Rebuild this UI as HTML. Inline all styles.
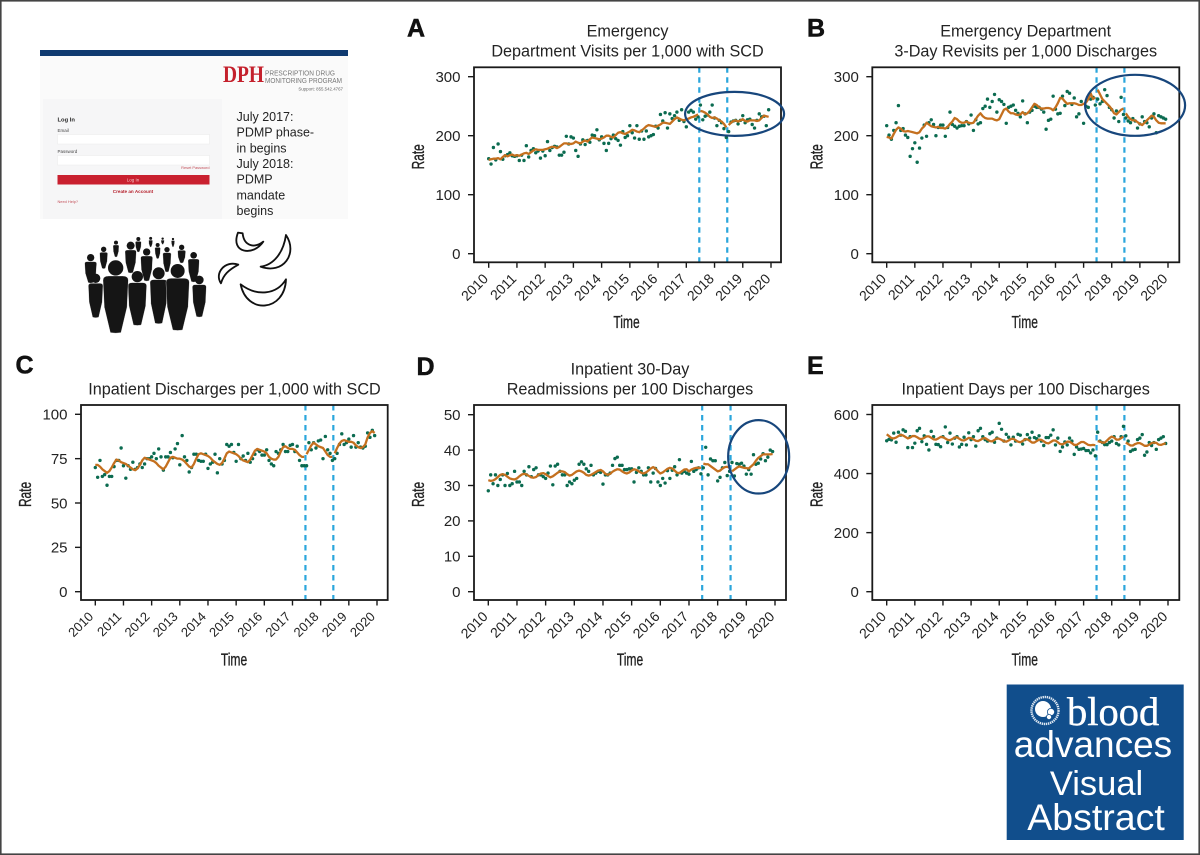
<!DOCTYPE html>
<html lang="en">
<head>
<meta charset="utf-8">
<title>Visual Abstract - PDMP and SCD acute care rates</title>
<style>
html,body{margin:0;padding:0;background:#fff;}
svg{display:block;}
text{font-family:"Liberation Sans",sans-serif;fill:#232323;}
</style>
</head>
<body>
<svg id="root" xmlns="http://www.w3.org/2000/svg" width="1200" height="855" viewBox="0 0 1200 855">
  <rect x="0" y="0" width="1200" height="855" fill="#fff"/>
  <rect x="0.8" y="0.8" width="1198.4" height="853.4" fill="none" stroke="#444" stroke-width="1.6"/>

  <g>
    <rect x="40" y="55" width="308" height="164" fill="#fafafa"/>
    <rect x="40" y="50" width="308" height="6" fill="#0f3a70"/>
    <rect x="43" y="99" width="179" height="120" fill="#f6f6f7"/>
    <text x="223" y="82" font-size="23" font-weight="bold" style="fill:#c4202c;font-family:'Liberation Serif',serif" textLength="41" lengthAdjust="spacingAndGlyphs">DPH</text>
    <text x="265" y="75.5" font-size="7.5" style="fill:#777" textLength="70" lengthAdjust="spacingAndGlyphs">PRESCRIPTION DRUG</text>
    <text x="265" y="83" font-size="7.5" style="fill:#777" textLength="77" lengthAdjust="spacingAndGlyphs">MONITORING PROGRAM</text>
    <text x="343" y="90.5" font-size="4.4" text-anchor="end" style="fill:#666">Support: 855.542.4767</text>
    <text x="57.5" y="121.5" font-size="5.8" font-weight="bold">Log In</text>
    <text x="57.5" y="132" font-size="4.5" style="fill:#444">Email</text>
    <rect x="57.5" y="134.5" width="152" height="9.5" fill="#fff" stroke="#eaeaea" stroke-width="0.5"/>
    <text x="57.5" y="153" font-size="4.5" style="fill:#444">Password</text>
    <rect x="57.5" y="155.5" width="152" height="9.5" fill="#fff" stroke="#eaeaea" stroke-width="0.5"/>
    <text x="209.5" y="169" font-size="3.9" text-anchor="end" style="fill:#c4505a">Reset Password</text>
    <rect x="57.5" y="175" width="152" height="9.5" fill="#c9202f"/>
    <text x="133" y="181.5" font-size="4.5" text-anchor="middle" style="fill:#f6c8cc">Log In</text>
    <text x="133" y="193" font-size="4.6" font-weight="bold" text-anchor="middle" style="fill:#b5202c">Create an Account</text>
    <text x="57.5" y="203" font-size="3.9" style="fill:#c4505a">Need Help?</text>
    <g font-size="12.5">
      <text x="236.5" y="121">July 2017:</text>
      <text x="236.5" y="136.7">PDMP phase-</text>
      <text x="236.5" y="152.4">in begins</text>
      <text x="236.5" y="168">July 2018:</text>
      <text x="236.5" y="183.7">PDMP</text>
      <text x="236.5" y="199.4">mandate</text>
      <text x="236.5" y="215">begins</text>
    </g>
  </g>

  <g id="crowd" transform="translate(20 40) scale(0.3333)" fill="#151515"></g>

  <g transform="translate(20 40) scale(0.3333)" fill="#fff" stroke="#111" stroke-width="5.5" stroke-linejoin="round">
    <path d="M654,578 C630,640 700,650 730,605 C705,625 672,620 668,580 Z"/>
    <path d="M798,585 C835,640 790,705 722,680 C760,675 790,640 798,585 Z"/>
    <path d="M655,674 C615,660 582,700 603,730 C610,705 625,690 655,674 Z"/>
    <path d="M662,733 C680,825 795,815 798,718 C770,765 710,770 662,733 Z"/>
  </g>

  <g id="charts"></g>

  <g>
    <rect x="1006.7" y="684.5" width="177" height="155.5" fill="#114e8c"/>
    <circle cx="1045" cy="710.5" r="13.5" fill="none" stroke="#dfe8f2" stroke-width="2.4" stroke-dasharray="1.4 0.7"/>
    <circle cx="1043" cy="709" r="8" fill="#fff"/>
    <circle cx="1051" cy="712" r="3.6" fill="#fff" stroke="#114e8c" stroke-width="0.8"/>
    <circle cx="1049" cy="717" r="2.6" fill="#fff" stroke="#114e8c" stroke-width="0.8"/>
    <text x="1067" y="725" font-size="40.5" style="fill:#fff;stroke:#fff;stroke-width:.4;font-family:'Liberation Serif',serif">blood</text>
    <text x="1093" y="757" font-size="37" text-anchor="middle" style="fill:#fff">advances</text>
    <text x="1096.5" y="795" font-size="34.5" text-anchor="middle" style="fill:#fff">Visual</text>
    <text x="1096" y="830" font-size="37.5" text-anchor="middle" style="fill:#fff">Abstract</text>
  </g>
</svg>

<script>
// Shared axis data
const xTickLabels = [2010, 2011, 2012, 2013, 2014, 2015, 2016, 2017, 2018, 2019, 2020];
const interventionYears = [2017.46, 2018.45];
const segmentBreakMonths = [90, 102];

// Panel A
const yTicksA = [0, 100, 200, 300];
const observedA = [
161,152,180,159,186,173,160,166,168,171,166,165,
166,158,167,158,183,164,175,178,171,174,162,174,
166,190,175,180,182,181,167,167,172,199,186,198,
196,175,165,186,193,185,192,189,201,200,210,193,
198,187,175,187,195,201,195,192,184,207,197,200,
217,205,196,217,194,208,194,208,198,200,202,216,
213,236,225,239,213,237,229,234,240,226,244,224,
215,240,243,240,228,232,252,227,233,235,240,252,
230,217,226,222,212,197,207,223,225,226,220,226,
234,222,227,228,219,213,226,237,232,233,217,244];
const fittedA = [
159,160,161,161,162,160,164,167,165,167,168,166,
167,166,168,170,171,169,172,175,177,176,176,176,
177,178,180,181,181,179,181,184,187,187,186,186,
187,190,188,187,190,192,190,194,197,196,195,194,
195,197,200,200,198,197,201,205,206,204,203,205,
207,210,209,207,206,209,212,216,218,217,216,215,
217,219,222,222,221,220,224,228,231,229,227,226,
228,229,231,232,234,236,242,241,239,236,232,230,
231,229,226,224,220,214,218,222,225,226,224,226,
228,225,224,226,226,226,225,226,230,234,233,232];

// Panel B
const yTicksB = [0, 100, 200, 300];
const observedB = [
217,201,194,209,222,251,209,212,201,197,165,178,
188,155,179,196,218,199,222,227,219,200,214,218,
218,199,214,240,219,216,213,216,217,217,224,220,
235,209,227,220,222,246,250,262,248,258,270,240,
261,258,253,221,248,250,252,243,238,232,259,237,
222,240,243,250,248,248,245,240,211,226,228,267,
245,237,238,267,251,275,272,253,264,232,237,258,
221,250,248,262,265,252,262,254,258,278,268,248,
244,230,242,224,265,236,230,225,222,229,225,213,
220,232,224,222,215,230,237,205,234,232,230,228];
const fittedB = [
198,197,195,203,210,214,212,208,207,208,207,206,
205,204,206,212,216,222,219,216,215,214,215,213,
213,212,215,220,224,230,228,224,222,222,224,222,
221,222,228,234,238,233,230,229,229,229,227,226,
228,236,244,246,241,238,238,236,235,236,240,236,
238,242,248,254,252,248,246,246,247,247,246,243,
248,255,264,263,258,254,255,255,255,254,252,252,
254,256,262,272,262,265,278,270,262,258,254,250,
245,238,236,240,244,246,238,232,228,226,226,223,
220,218,222,226,230,234,232,226,222,221,221,221];

// Panel C
const yTicksC = [0, 25, 50, 75, 100];
const observedC = [
70,64.5,74,65,66,60,65,65,70.5,74,74,81,
71,64,71,69,73,69,70,72,70,72,75,75,
76,78,75,80.5,76,68.5,76,76,78.5,75.5,80.5,83.5,
71.5,88,76,74,67.5,70,77.5,77.5,74,73.5,73.5,77.5,
69.5,72,73,77.5,67,75,72,74,83,82,83,78.5,
73.5,83,75,76.5,74,78,73,75,77.5,80,79,77,
77,80,74,72,71,79,78,80,83,79,79,82.5,
83,79,82,74,71,71,71,84,80,84,81,85,
85.5,75,87.5,80,78,74,75,78,83,89,83,84,
86,81.5,88,81.5,84,81.5,81,82,89.5,87,91,88];
const fittedC = [
71.5,71.5,70.5,69,68,67,68,70,72.5,74.5,74,73,
72.5,72,71,70,69,68.5,69.5,71.5,74,75.5,75,74.5,
74,73.5,72.5,71,70,69,70.5,73,75.5,76,75.5,75,
75,74.5,73.5,72,70.5,70,72,75,77.5,78,77.5,77,
76.5,75.5,74,73,72,71.5,72.5,75,78,79,78.5,78,
77.5,76.5,75,74,73.5,73,74.5,77,79.5,80.5,80,79.5,
79,78,76,75,74.5,74.5,76,79,81.5,82,81,80.5,
80.5,80,78.5,77,76,76,77.5,80,82.5,84,83,82,
81.5,81,79,77,76,76,78,81,83.5,85,85.5,85,
84.5,84.5,84,82.5,81.5,81,81.5,83,87,89.5,90.5,89.5];

// Panel D
const yTicksD = [0, 10, 20, 30, 40, 50];
const observedD = [
28.5,33,30.5,33,30,31.7,33,30,33.4,30,30.5,34,
31,31,30,34,33,35.3,32.5,34.5,35,33,33,32.5,
32,33.5,35.5,30.2,35.5,36,34,33,33,30,31,30.5,
31.5,32,36,36.7,36,34.7,34,35.7,33,33.5,34,33.7,
30.4,33,33,33.5,35.7,37.6,38,35.7,35.7,34.5,34.5,34.7,
34.7,31,33.7,35,34,33,33,35,31,33.5,34.8,31,
30,32,30.7,34.2,32,34.3,35.3,33,37.3,33.5,34,33.5,
33.2,36.8,34,34.5,35,33.3,35,40.8,33,37.5,37,37,
31.3,32.3,35,36.5,32.8,34,36.5,32.7,36.2,36,36.3,35.5,
33.2,34.5,33.2,38.7,36,36.3,37.5,39,37,38,40,39.6];
const fittedD = [
31.5,31.3,31.4,31.8,32.4,33,33.2,33,32.5,32,31.8,31.7,
32,32.6,33.1,33.3,33.1,32.7,32.3,32.2,32.4,33,33.4,33.5,
33.2,32.7,32.3,32.6,33.1,33.6,34,34,33.8,33.2,32.8,33,
33.5,34,34.2,34,33.6,33,32.8,33,33.4,33.8,34.2,34.4,
34,33.3,33,33.3,33.9,34.3,34.6,34.5,34,33.6,33.4,33.7,
34.2,34.6,34.4,34,33.6,33.4,33.7,34.2,34.8,35.2,34.8,34,
33.4,33.7,34.2,34.7,35,34.8,34.2,33.6,33.5,34,34.5,34.6,
34,34.5,34.8,35,35,35,36.2,36,36,35.5,35,34.5,
34,34.2,34.8,35.2,35.3,35,34,34.5,35,35.4,35.2,35,
34.9,34.8,35.4,36,37,37.8,38.3,38.8,38.8,38.8,38.8,38.9];

// Panel E
const yTicksE = [0, 200, 400, 600];
const observedE = [
511,516,514,537,506,540,530,548,543,488,525,488,
503,545,553,508,528,499,480,543,525,499,498,491,
525,558,505,537,500,520,525,490,499,523,497,538,
515,525,493,545,553,525,515,510,535,540,506,520,
570,550,510,533,523,497,523,510,533,530,500,515,
532,520,540,522,518,528,510,495,522,522,530,548,
497,520,475,490,507,497,520,510,465,490,482,483,
485,478,478,470,480,460,540,510,505,498,498,505,
510,525,502,497,525,560,528,510,475,480,482,515,
520,532,462,473,505,495,505,482,515,520,525,502];
const fittedE = [
533,527,520,519,522,527,531,529,524,519,522,527,
527,523,518,517,521,526,526,521,516,515,519,524,
523,519,514,513,517,522,523,518,513,512,516,521,
520,516,511,510,514,519,520,515,510,509,514,519,
518,514,509,508,512,517,518,513,508,506,510,516,
516,511,505,505,510,515,514,509,504,502,507,512,
512,506,500,499,503,508,508,503,497,497,502,507,
507,502,497,496,497,496,510,508,505,505,512,520,
525,522,515,515,520,525,505,500,495,495,500,503,
503,499,494,494,498,503,505,504,498,497,500,503];

const NS = 'http://www.w3.org/2000/svg';
function make(tag, attrs, parent) {
  const el = document.createElementNS(NS, tag);
  for (const k in attrs) el.setAttribute(k, attrs[k]);
  parent.appendChild(el);
  return el;
}

const panels = [
  {key:'a', letter:'A', letterX:407, letterY:36.5, title:['Emergency','Department Visits per 1,000 with SCD'], titleX:627.5,
   left:474, right:781, top:67.3, bottom:262.3, x2010:488.7, x2020:771, yMax:300, yTopPx:76.7, yZeroPx:253.7, labelSize:14, labelDx:-2.5,
   ticks:yTicksA, observed:observedA, fitted:fittedA, ring:{year:2018.71, rate:237, rx:49.5, ry:22}},
  {key:'b', letter:'B', letterX:807, letterY:36.5, title:['Emergency Department','3-Day Revisits per 1,000 Discharges'], titleX:1025.7,
   left:872.3, right:1179.3, top:67.3, bottom:262.3, x2010:886.7, x2020:1168, yMax:300, yTopPx:76.7, yZeroPx:253.7, labelSize:14, labelDx:-2.5,
   ticks:yTicksB, observed:observedB, fitted:fittedB, ring:{year:2018.83, rate:251.5, rx:50, ry:30.5}},
  {key:'c', letter:'C', letterX:15.5, letterY:373.5, title:['Inpatient Discharges per 1,000 with SCD'], titleX:234.5,
   left:81, right:387.7, top:405, bottom:600, x2010:95.3, x2020:377, yMax:100, yTopPx:414.3, yZeroPx:591.7, labelSize:13, labelDx:-4,
   ticks:yTicksC, observed:observedC, fitted:fittedC, ring:null},
  {key:'d', letter:'D', letterX:416.5, letterY:375, title:['Inpatient 30-Day','Readmissions per 100 Discharges'], titleX:630,
   left:474, right:786, top:405, bottom:600, x2010:488.3, x2020:775, yMax:50, yTopPx:414.7, yZeroPx:591.7, labelSize:14, labelDx:-2.5,
   ticks:yTicksD, observed:observedD, fitted:fittedD, ring:{year:2019.43, rate:38.1, rx:30.5, ry:36.7}},
  {key:'e', letter:'E', letterX:807, letterY:374, title:['Inpatient Days per 100 Discharges'], titleX:1025.7,
   left:872.3, right:1179.3, top:405, bottom:600, x2010:886.7, x2020:1168, yMax:600, yTopPx:414.5, yZeroPx:591.7, labelSize:14, labelDx:-2.5,
   ticks:yTicksE, observed:observedE, fitted:fittedE, ring:null}
];

const chartsRoot = document.getElementById('charts');

panels.forEach(function (p) {
  const xScale = function (year) { return p.x2010 + (year - 2010) * (p.x2020 - p.x2010) / 10; };
  const yScale = function (rate) { return p.yZeroPx - rate * (p.yZeroPx - p.yTopPx) / p.yMax; };
  const monthToYear = function (i) { return 2010 + i / 12; };

  const g = make('g', {}, chartsRoot);
  
  

  const letter = make('text', {x:p.letterX, y:p.letterY, 'font-size':25, 'font-weight':'bold', style:'fill:#111;stroke:#111;stroke-width:.5'}, g);
  letter.textContent = p.letter;
  
  

  const lastBaseline = p.top - 10.7;
  p.title.forEach(function (line, i) {
    const t = make('text', {x:p.titleX, y:lastBaseline - (p.title.length - 1 - i) * 20, 'font-size':16.2, 'text-anchor':'middle'}, g);
    t.textContent = line;
    
    
  });

  const bg = make('rect', {x:p.left, y:p.top, width:p.right - p.left, height:p.bottom - p.top, fill:'#fff'}, g);
  
  

  interventionYears.forEach(function (yr) {
    const v = make('line', {x1:xScale(yr), x2:xScale(yr), y1:p.top, y2:p.bottom, stroke:'#2ba6dc', 'stroke-width':2.2, 'stroke-dasharray':'5.5 4.5'}, g);
    
    
  });

  p.observed.forEach(function (val, i) {
    const c = make('circle', {cx:xScale(monthToYear(i)), cy:yScale(val), r:1.7, fill:'#0b6b50'}, g);
    
    
  });

  const bounds = [0].concat(segmentBreakMonths, [p.fitted.length]);
  for (let s = 0; s < bounds.length - 1; s++) {
    let d = '';
    for (let i = bounds[s]; i < bounds[s + 1]; i++) {
      d += (i === bounds[s] ? 'M' : 'L') + xScale(monthToYear(i)).toFixed(2) + ',' + yScale(p.fitted[i]).toFixed(2);
    }
    const path = make('path', {d:d, fill:'none', stroke:'#c4701f', 'stroke-width':2.3, 'stroke-linejoin':'round'}, g);
    
    
  }

  const frame = make('rect', {x:p.left, y:p.top, width:p.right - p.left, height:p.bottom - p.top, fill:'none', stroke:'#1a1a1a', 'stroke-width':1.8}, g);
  
  

  xTickLabels.forEach(function (yr) {
    const px = xScale(yr);
    const tick = make('line', {x1:px, x2:px, y1:p.bottom, y2:p.bottom + 5.5, stroke:'#1a1a1a', 'stroke-width':1.4}, g);
    
    
    const tx = px + p.labelDx, ty = p.bottom + 14.5;
    const lab = make('text', {x:0, y:0, 'font-size':p.labelSize, 'text-anchor':'end', transform:'translate(' + tx + ' ' + ty + ') rotate(-45) translate(0 4)'}, g);
    lab.textContent = yr;
    
    
  });

  p.ticks.forEach(function (val) {
    const py = yScale(val);
    const tick = make('line', {x1:p.left - 6, x2:p.left, y1:py, y2:py, stroke:'#1a1a1a', 'stroke-width':1.4}, g);
    
    
    const lab = make('text', {x:p.left - 13.5, y:py + 5.3, 'font-size':15, 'text-anchor':'end'}, g);
    lab.textContent = val;
    
    
  });

  const xCenter = p.key === 'c' ? 234 : (p.left + p.right) / 2 + (p.key === 'd' ? 0 : -1);
  const xt = make('text', {'font-size':18, 'text-anchor':'middle', style:'stroke:#232323;stroke-width:.35', transform:'translate(' + xCenter + ' ' + (p.bottom + 65.5) + ') scale(.67 1)'}, g);
  xt.textContent = 'Time';
  
  

  const yt = make('text', {'font-size':18, 'text-anchor':'middle', style:'stroke:#232323;stroke-width:.35', transform:'translate(' + (p.left - 50) + ' ' + ((p.top + p.bottom) / 2 - 8) + ') rotate(-90) scale(.66 1)'}, g);
  yt.textContent = 'Rate';
  
  

  if (p.ring) {
    const e = make('ellipse', {cx:xScale(p.ring.year), cy:yScale(p.ring.rate), rx:p.ring.rx, ry:p.ring.ry, fill:'none', stroke:'#17467c', 'stroke-width':2.2}, g);
    
    
  }
});

// Crowd illustration: head x, head y, head radius, body half-width, body bottom
const crowdFigures = [
  [212,653,11,18,728],[521,646,10,17,725],[251,628,8,12,685],[288,608,6,9,650],[355,597,6,9,635],
  [392,595,4.5,6,620],[428,596,3.5,5,612],[459,597,3.5,5,620],[413,615,6,8.5,655],[485,622,8,12,668],
  [441,629,8,12.5,695],[332,617,12,17,698],[380,636,11,18,722],
  [227,715,14,22,832],[538,720,13,21,830],[352,710,17,28,855],[416,700,18,26,850],[473,693,21,35,870],[287,684,23,38,878]
];
const crowd = document.getElementById('crowd');
crowdFigures.forEach(function (f) {
  const hx = f[0], hy = f[1], r = f[2], w = f[3], b = f[4];
  const st = hy + r + 1, mid = st + (b - st) * 0.55, leg = w * 0.42;
  const person = make('g', {}, crowd);
  
  
  make('circle', {cx:hx, cy:hy, r:r}, person);
  make('path', {d:'M' + (hx - w) + ',' + (st + w * .35) + ' Q' + (hx - w) + ',' + st + ' ' + (hx - w * .55) + ',' + st +
    ' L' + (hx + w * .55) + ',' + st + ' Q' + (hx + w) + ',' + st + ' ' + (hx + w) + ',' + (st + w * .35) +
    ' L' + (hx + w * .9) + ',' + mid + ' L' + (hx + leg) + ',' + b + ' Q' + hx + ',' + (b + 3) + ' ' + (hx - leg) + ',' + b +
    ' L' + (hx - w * .9) + ',' + mid + ' Z', stroke:'#fff', 'stroke-width':1}, person);
});
</script>
</body>
</html>
